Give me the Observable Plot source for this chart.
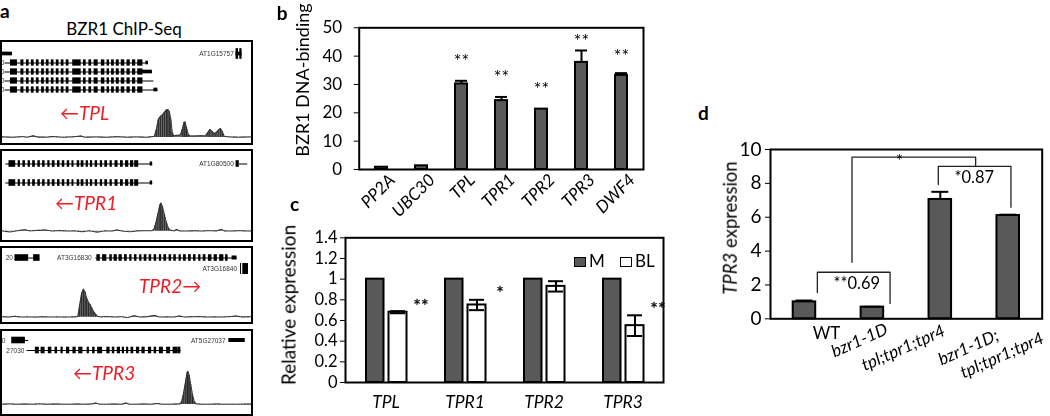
<!DOCTYPE html>
<html><head><meta charset="utf-8">
<script src="https://cdn.jsdelivr.net/npm/d3@7"></script>
<script src="https://cdn.jsdelivr.net/npm/@observablehq/plot@0.6"></script>
<style>
html,body{margin:0;padding:0;background:#fff;}
#fig{position:relative;width:1050px;height:416px;overflow:hidden;font-family:Lato,"Open Sans",sans-serif;color:#000;}
#fig svg{position:absolute;overflow:visible;background:transparent;will-change:transform;}
.t{position:absolute;white-space:pre;line-height:1;}
.track{position:absolute;left:0;width:253px;border:2px solid #000;box-sizing:border-box;overflow:hidden;background:#fff;}
.track svg{position:absolute;left:0;}
</style></head><body><div id="fig"></div>
<script>
// ================= DATA =================
// ---- panel a : BZR1 ChIP-Seq tracks (positions in % of window, signal in read-height units)
const tplExons = [[3.2,6.0],[7.4,8.6],[9.6,10.7],[11.6,12.7],[13.6,14.7],[15.7,16.8],[17.6,18.7],[19.6,20.7],[21.6,22.7],[23.6,24.7],[25.6,26.7],[28.2,31.6],[32.5,33.6],[34.7,35.8],[36.8,38.4],[39.7,41.1],[42.0,43.0],[43.8,44.9],[45.7,46.9],[47.7,49.1],[50.0,51.3],[52.2,53.5],[54.3,56.4]];
const tplRows = [["r1",1,58.6],["r2",1,60.2],["r3",1,60.8],["r4",1,62.4]];
const tplUtrs = [["r0",0,4],["r1",57.6,58.6],["r2",55.5,60.2],["r4",60.8,62.4],["r0",93.8,96.2]];
const tplTall = [["r0",93.8,94.8],["r0",95.3,96.2]];
const tplNames = [["r0",93.3,"AT1G15757"],["r1",1.2,"0"],["r2",1.2,"0"],["r3",1.2,"0"],["r4",1.2,"0"]];
const tplSignal = [[0,0.6],[4,0.2],[8,0.8],[10,0.2],[12.5,1.8],[14,0.4],[18,0.3],[20,0.9],[24,0.2],[28,0.6],[31.6,1.5],[33,0.3],[38,0.5],[42,0.2],[46,0.7],[50,0.3],[54,0.5],[58,0.2],[60,0.8],[61.0,1],[61.8,8],[62.6,18],[63.4,21],[64.2,22.5],[65.0,25],[65.8,27.5],[66.4,28],[67.0,26],[67.6,18],[68.2,5],[68.8,1.5],[69.5,2],[71.5,2.5],[72.2,8],[72.9,15],[73.3,15.5],[73.9,10],[74.6,3],[75.3,1.5],[77,1.5],[80,1.8],[81.5,1.5],[82.5,5],[83.3,8],[84.2,6],[85.0,4],[85.7,4.5],[86.6,7],[87.5,9],[88.3,6],[89.0,1.2],[91,0.5],[95,0.3],[100,0.5]];

const tpr1Exons = [[2.6,5.3],[6.3,7.2],[8.2,9.2],[10.3,11.2],[12.1,13.2],[14.2,15.2],[16.1,17.1],[18.2,19.1],[20.0,21.1],[22.1,23.1],[24.0,25.0],[26.0,27.0],[27.9,28.7],[30.0,31.0],[31.6,32.7],[33.6,34.5],[35.3,36.2],[37.2,38.2],[39.3,40.2],[41.1,42.2],[43.2,44.1],[45.2,46.4],[47.4,48.5],[49.4,50.7],[51.4,52.7],[53.1,54.7],[93.8,95.1]];
const tpr1Rows = [["r1",1.3,60.3],["r2",1.3,60.3],["r1",95.1,98.5]];
const tpr1Utrs = [["r1",59.3,60.3],["r2",59.3,60.3]];
const tpr1Tall = [];
const tpr1Names = [["r1",93.3,"AT1G80500"]];
const tpr1Signal = [[0,0.3],[3,-0.8],[6,0.5],[9,1.5],[11,0.3],[14,0.8],[17,1.2],[20,0.2],[23,0.6],[26,0.2],[29,0.3],[32,-0.5],[35,0.4],[38,-1],[41,0.3],[44,0.2],[46,1.2],[48,0.2],[51,-0.6],[54,0.3],[57,0.5],[60,0.4],[60.8,1.5],[61.6,8],[62.4,17],[63.2,26],[63.6,28],[64.2,25],[65,17],[65.8,9],[66.6,3],[67.5,1],[69,0.3],[70,1.8],[71,0.3],[74,0.2],[77,0.4],[80,0.2],[83,0.5],[86,0.3],[88,1.8],[89,0.3],[92,0.2],[95,0.5],[98,0.2],[100,0.3]];

const tpr2Exons = [[5.0,10.5],[12.5,15.1],[37.9,39.3],[40.2,41.9],[43.1,44.1],[44.8,46.1],[46.8,48.1],[49.0,50.1],[51.1,52.0],[53.0,54.0],[55.1,56.0],[56.9,58.0],[58.9,59.9],[60.9,61.9],[63.0,63.9],[64.8,65.9],[66.9,67.9],[68.8,69.8],[70.9,71.8],[72.7,73.8],[74.7,75.8],[76.7,77.7],[78.8,79.7],[80.6,81.7],[82.7,84.1],[85.0,86.3],[87.2,88.9],[89.6,90.6]];
const tpr2Rows = [["r1",10.5,12.5],["r1",37.5,94.2]];
const tpr2Utrs = [["r1",92.2,94.2]];
const tpr2Tall = [["r2",96.5,98.8],["r2",95.6,96.0]];
const tpr2Names = [["r1",4.6,"20"],["r1",36.2,"AT3G16830"],["r2",94.6,"AT3G16840"]];
const tpr2Signal = [[0,0.4],[3,0.2],[5,1],[7,0.2],[10,0.3],[13,0.1],[16,0.4],[19,0.2],[22,0.3],[25,0.1],[28,0.3],[29.5,0.3],[30.3,1],[31.0,12],[31.8,24],[32.5,28],[33.2,25],[33.8,19],[34.5,15],[35.2,12.5],[35.9,9],[36.6,5.5],[37.4,3],[38.2,0.8],[39.5,0.3],[42,0.6],[45,0.2],[48,0.5],[50,-0.5],[53,1.5],[55,0.2],[58,0.4],[61,1.8],[63,0.2],[66,0.3],[69,0.2],[71,1.2],[73,0.2],[76,0.4],[79,0.6],[82,0.2],[85,0.3],[88,0.2],[91,0.5],[94,1.2],[96,0.3],[100,0.4]];

const tpr3Exons = [[3.7,9.2],[13.2,14.8],[15.5,17.1],[18.4,19.8],[21.1,22.1],[23.5,24.4],[25.7,27.0],[28.3,29.6],[30.6,32.3],[34.0,34.9],[36.2,37.2],[38.2,40.2],[41.9,43.2],[44.1,45.1],[46.1,47.4],[48.1,49.0],[49.8,50.7],[51.6,52.7],[53.8,55.1],[56.0,57.3],[58.6,59.9],[60.9,61.9],[63.0,64.6],[65.9,67.5],[68.5,70.5],[70.5,71.6]];
const tpr3Rows = [["r1",9.2,10.5],["r2",9.9,71.8]];
const tpr3Utrs = [["r1",90.9,97.5]];
const tpr3Tall = [];
const tpr3Names = [["r1",1.6,"0"],["r1",90.0,"AT5G27037"],["r2",9.2,"27030"]];
const tpr3Signal = [[0,0.3],[3,0.5],[6,0.2],[9,0.4],[12,0.2],[15,0.6],[18,0.2],[21,0.4],[24,0.3],[27,0.2],[30,0.4],[33,0.2],[36,0.5],[37.5,1.5],[39,0.3],[42,0.2],[45,0.4],[48,0.2],[49.5,1.5],[51,0.3],[54,0.2],[57,0.4],[60,0.2],[62,1.0],[64,0.3],[67,0.2],[70,0.4],[71.2,0.5],[72.0,3],[72.8,12],[73.6,24],[74.2,32],[74.5,33],[75.0,29],[75.6,20],[76.3,10],[77.0,3],[77.8,0.5],[80,0.3],[83,0.2],[86,0.4],[89,0.2],[92,0.3],[95,0.2],[98,0.4],[100,0.3]];

// ---- panel b : ChIP-qPCR
const bGenes = ["PP2A","UBC30","TPL","TPR1","TPR2","TPR3","DWF4"];
const bValues = [0.8, 1.3, 30.2, 24.3, 21.3, 37.8, 33.2];
const bErrors = [0, 0, 1.1, 1.3, 0, 4.2, 0.8];
const bStars = ["", "", "**", "**", "**", "**", "**"];
const bStarY = [null, null, 39.9, 34.3, 30.2, 47.0, 41.7];
const bTicks = [0, 10, 20, 30, 40, 50];

// ---- panel c : relative expression, mock vs BL
const cGenes = ["TPL","TPR1","TPR2","TPR3"];
const cMock = [1, 1, 1, 1];
const cBL = [0.68, 0.75, 0.93, 0.55];
const cBLErr = [0.01, 0.05, 0.05, 0.10];
const cStars = ["**", "*", "", "**"];
const cStarY = [0.79, 0.91, null, 0.755];
const cTicks = [0, 0.2, 0.4, 0.6, 0.8, 1, 1.2, 1.4];
const cSeries = ["M", "BL"];

// ---- panel d : TPR3 expression
const dGenotypes = ["WT", "bzr1-1D", "tpl;tpr1;tpr4", "bzr1-1D;\ntpl;tpr1;tpr4"];
const dValues = [1.0, 0.69, 7.05, 6.1];
const dErrors = [0.08, 0.02, 0.45, 0.05];
const dTicks = [0, 2, 4, 6, 8, 10];
// significance brackets: left/right x (category index units), top y, left/right foot y
const dBrackets = [[0.19, 1.26, 2.75, 1.55, 0.9], [1.97, 3.04, 9.0, 7.93, 6.59], [0.70, 2.52, 9.55, 3.34, 9.0]];
const dNotes = [[0.77, 2.05, "**0.69"], [2.50, 8.32, "*0.87"], [1.40, 9.3, "*"]];

// ================= LAYOUT / DRAWING =================
const FONT = 'Lato, "Open Sans", sans-serif';
const BAR = "#595959";
const fig = document.getElementById("fig");

function addText(str, x, y, o = {}) {
  const size = o.size || 16;
  const d = document.createElement("div");
  d.className = "t";
  if (o.html) d.innerHTML = str; else d.textContent = str;
  d.style.fontSize = size + "px";
  d.style.fontWeight = o.weight || "normal";
  d.style.fontStyle = o.style || "normal";
  d.style.color = o.color || "#000";
  d.style.left = x + "px";
  d.style.top = (y - 0.887 * size) + "px";
  if (o.anchor === "middle") d.style.transform = "translateX(-50%)";
  (o.parent || fig).appendChild(d);
  return d;
}
function addYTitle(str, cx, cy, size, html) {
  const d = document.createElement("div");
  d.className = "t";
  if (html) d.innerHTML = str; else d.textContent = str;
  d.style.fontSize = size + "px";
  d.style.left = cx + "px"; d.style.top = cy + "px";
  d.style.transform = "translate(-50%,-50%) rotate(-90deg)";
  fig.appendChild(d);
}
function put(svg, left, top, parent) {
  svg.style.left = left + "px"; svg.style.top = top + "px";
  (parent || fig).appendChild(svg);
}
const rowObj = a => ({lane: a[0], start: a[1], end: a[2]});

// ---- panel a
const trackLayouts = [
  {top: 40, height: 105, lanes: ["r0","r1","r2","r3","r4"], geneH: 55, laneRange: [6.3, 52.9], covTop: 56, covH: 45, covBottom: 6,
   exons: tplExons, exonLanes: ["r1","r2","r3","r4"], rows: tplRows, utrs: tplUtrs, tall: tplTall, names: tplNames, signal: tplSignal},
  {top: 149, height: 93, lanes: ["r1","r2"], geneH: 44, laneRange: [2.8, 40.8], covTop: 44, covH: 45, covBottom: 9.3,
   exons: tpr1Exons, exonLanes: ["r1","r2"], rows: tpr1Rows, utrs: tpr1Utrs, tall: tpr1Tall, names: tpr1Names, signal: tpr1Signal},
  {top: 246, height: 78, lanes: ["r1","r2"], geneH: 28, laneRange: [3.8, 25.8], covTop: 34, covH: 40, covBottom: 5.3,
   exons: tpr2Exons, exonLanes: ["r1"], rows: tpr2Rows, utrs: tpr2Utrs, tall: tpr2Tall, names: tpr2Names, signal: tpr2Signal},
  {top: 329, height: 87, lanes: ["r1","r2"], geneH: 28, laneRange: [4, 24], covTop: 31, covH: 52, covBottom: 10,
   exons: tpr3Exons, exonLanes: ["r2"], rows: tpr3Rows, utrs: tpr3Utrs, tall: tpr3Tall, names: tpr3Names, signal: tpr3Signal}
];
// exons that sit only on one lane (neighbouring genes)
const exonLaneOverride = {1: {"93.8": ["r1"]}, 3: {"3.7": ["r1"]}, 2: {"5": ["r1"]}};

trackLayouts.forEach((L, k) => {
  const box = document.createElement("div");
  box.className = "track";
  box.style.top = L.top + "px"; box.style.height = L.height + "px";
  fig.appendChild(box);
  const W = 249;
  const step = (L.laneRange[1] - L.laneRange[0]) / L.lanes.length;
  const exonH = 6.6, utrH = 4, tallH = 11;
  const exonRects = [];
  L.exons.forEach(e => {
    const ov = exonLaneOverride[k] && exonLaneOverride[k][String(e[0])];
    (ov || L.exonLanes).forEach(lane => exonRects.push({lane, start: e[0], end: e[1]}));
  });
  const gene = Plot.plot({
    width: W, height: L.geneH,
    marginLeft: 0, marginRight: 0, marginTop: L.laneRange[0], marginBottom: L.geneH - L.laneRange[1],
    x: {domain: [0, 100], axis: null},
    y: {domain: L.lanes, padding: 0, axis: null},
    style: {fontFamily: FONT, background: "transparent", overflow: "visible"},
    marks: [
      Plot.ruleY(L.rows.map(rowObj), {x1: "start", x2: "end", y: "lane", stroke: "#000", strokeWidth: 1}),
      Plot.barX(exonRects, {x1: "start", x2: "end", y: "lane", fill: "#000", insetTop: (step - exonH) / 2, insetBottom: (step - exonH) / 2}),
      Plot.barX(L.utrs.map(rowObj), {x1: "start", x2: "end", y: "lane", fill: "#000", insetTop: (step - utrH) / 2, insetBottom: (step - utrH) / 2}),
      Plot.barX(L.tall.map(rowObj), {x1: "start", x2: "end", y: "lane", fill: "#000", insetTop: (step - tallH) / 2, insetBottom: (step - tallH) / 2}),
      Plot.text(L.names.map(n => ({lane: n[0], pos: n[1], name: n[2]})), {x: "pos", y: "lane", text: "name", textAnchor: "end", dx: -1, fontSize: 6.5, fill: "#333", fontFamily: "Liberation Sans, Arial, sans-serif"})
    ]
  });
  put(gene, 0, 0, box);
  const sig = L.signal.map(s => ({x: s[0], v: s[1]}));
  const cov = Plot.plot({
    width: W, height: L.covH,
    marginLeft: 0, marginRight: 0, marginTop: 0, marginBottom: L.covBottom,
    x: {domain: [0, 100], axis: null},
    y: {domain: [0, L.covH - L.covBottom], axis: null},
    style: {background: "transparent", overflow: "visible"},
    marks: [
      Plot.areaY(sig, {x: "x", y: "v", fill: "#707070"}),
      Plot.ruleX(sig.filter(d => d.v > 2.5), {x: "x", y1: 0, y2: "v", stroke: "#111", strokeWidth: 0.8}),
      Plot.line(sig, {x: "x", y: "v", stroke: "#333", strokeWidth: 1.1, strokeDasharray: "2,1"})
    ]
  });
  put(cov, 0, L.covTop, box);
});

addText("a", 0, 18.3, {size: 19, weight: "bold"});
addText("BZR1 ChIP-Seq", 124, 35, {size: 17, anchor: "middle"});
const RED = "#ee1c25";
addText("\u2190TPL", 60, 120, {size: 19, style: "italic", color: RED});
addText("\u2190TPR1", 55, 210, {size: 19, style: "italic", color: RED});
addText("TPR2\u2192", 139, 293, {size: 19, style: "italic", color: RED});
addText("\u2190TPR3", 73, 380, {size: 19, style: "italic", color: RED});

// ---- panel b
const bData = bGenes.map((g, i) => ({g, v: bValues[i], e: bErrors[i], s: bStars[i], sy: bStarY[i]}));
const bPlot = Plot.plot({
  width: 400, height: 225, marginLeft: 98.7, marginRight: 17, marginTop: 27.3, marginBottom: 56,
  style: {fontFamily: FONT, fontSize: "16px", color: "#000", background: "transparent", overflow: "visible"},
  x: {domain: bGenes, padding: 0, axis: null},
  y: {domain: [0, 50]},
  marks: [
    Plot.barY(bData, {x: "g", y: "v", fill: BAR, stroke: "#000", strokeWidth: 2, insetLeft: 14, insetRight: 14}),
    Plot.ruleX(bData.filter(d => d.e > 0), {x: "g", y1: "v", y2: d => d.v + d.e, stroke: "#000", strokeWidth: 2}),
    Plot.tickY(bData.filter(d => d.e > 0), {x: "g", y: d => d.v + d.e, stroke: "#000", strokeWidth: 2, insetLeft: 14, insetRight: 14}),
    Plot.text(bData.filter(d => d.s), {x: "g", y: "sy", text: "s", fill: "#000", fontSize: 18, dy: 5}),
    Plot.frame({stroke: "#000", strokeWidth: 2}),
    Plot.axisY({ticks: bTicks, tickSize: 5, tickPadding: 12, label: null, fontSize: 17, fill: "#000"}),
    Plot.text(bGenes, {x: d => d, text: d => d, frameAnchor: "bottom", rotate: -45, textAnchor: "end", lineAnchor: "top",
      dx: 6, dy: 3, fontSize: 17, fontStyle: "italic", fill: "#000"})
  ]
});
put(bPlot, 260, 0);
addText("b", 276.7, 20, {size: 19, weight: "bold"});
addYTitle("BZR1 DNA-binding", 302, 80, 18);

// ---- panel c
const cData = cGenes.map((g, i) => ({g, m: cMock[i], bl: cBL[i], e: cBLErr[i], s: cStars[i], sy: cStarY[i]}));
const cPlot = Plot.plot({
  width: 410, height: 191, marginLeft: 85, marginRight: 7, marginTop: 12.3, marginBottom: 34,
  style: {fontFamily: FONT, fontSize: "16px", color: "#000", background: "transparent", overflow: "visible"},
  x: {domain: cGenes, padding: 0, axis: null},
  y: {domain: [0, 1.4]},
  marks: [
    Plot.barY(cData, {x: "g", y: "m", fill: BAR, stroke: "#000", strokeWidth: 2, insetLeft: 20, insetRight: 41.5}),
    Plot.barY(cData, {x: "g", y: "bl", fill: "#fff", stroke: "#000", strokeWidth: 2, insetLeft: 42.5, insetRight: 18.5}),
    Plot.ruleX(cData, {x: "g", y1: d => d.bl - d.e, y2: d => d.bl + d.e, dx: 12, stroke: "#000", strokeWidth: 2}),
    Plot.tickY(cData, {x: "g", y: d => d.bl + d.e, insetLeft: 44, insetRight: 20, stroke: "#000", strokeWidth: 2}),
    Plot.tickY(cData, {x: "g", y: d => d.bl - d.e, insetLeft: 44, insetRight: 20, stroke: "#000", strokeWidth: 2}),
    Plot.text(cData.filter(d => d.s), {x: "g", y: "sy", text: "s", fill: "#000", stroke: "#000", strokeWidth: 0.3, dx: 35, dy: 5, fontSize: 18}),
    Plot.frame({stroke: "#000", strokeWidth: 2}),
    Plot.axisY({ticks: cTicks, tickFormat: d => String(d), tickSize: 5, tickPadding: 3, label: null, fontSize: 16.5, fill: "#000"}),
    Plot.text(cGenes, {x: d => d, text: d => d, frameAnchor: "bottom", dy: 19.5, lineAnchor: "middle",
      fontSize: 17.5, fontStyle: "italic", fill: "#000"})
  ]
});
put(cPlot, 260, 225);
addText("c", 290, 211, {size: 19, weight: "bold"});
addYTitle("Relative expression", 288, 305, 19);
// legend (inside panel c)
function legendSwatch(x, y, fill) {
  const s = document.createElement("div");
  s.style.cssText = `position:absolute;left:${x}px;top:${y}px;width:12px;height:10px;border:1.5px solid #000;box-sizing:border-box;background:${fill}`;
  fig.appendChild(s);
}
legendSwatch(574, 257, BAR);
addText(cSeries[0], 589, 267, {size: 17});
legendSwatch(620, 257, "#fff");
addText(cSeries[1], 635, 267, {size: 17});

// ---- panel d
const dData = dGenotypes.map((g, i) => ({g, i, v: dValues[i], e: dErrors[i]}));
const bracketPts = dBrackets.flatMap((b, k) => [
  {k, x: b[0], y: b[3]}, {k, x: b[0], y: b[2]}, {k, x: b[1], y: b[2]}, {k, x: b[1], y: b[4]}
]);
const labelMarks = [];
const labelOffsets = [[22, 15, 0], [-12.8, 21.7, -24], [-37, 29.2, -24], [-39.7, 28.7, -24], [-6.2, 36.7, -24]];
let li = 0;
dGenotypes.forEach((g, i) => {
  g.split("\n").forEach(line => {
    const [dx, dy, rot] = labelOffsets[li++];
    labelMarks.push(Plot.text([{i, t: line}], {x: "i", text: "t", frameAnchor: "bottom", dx, dy, rotate: rot,
      textAnchor: "middle", lineAnchor: "middle", fontSize: 17, fill: "#000", fontStyle: i === 0 ? "normal" : "italic"}));
  });
});
const dPlot = Plot.plot({
  width: 370, height: 286, marginLeft: 90, marginRight: 8.3, marginTop: 19, marginBottom: 97.7,
  style: {fontFamily: FONT, fontSize: "16px", color: "#000", background: "transparent", overflow: "visible"},
  x: {domain: [-0.5, 3.5], axis: null},
  y: {domain: [0, 10], axis: null},
  marks: [
    Plot.rectY(dData, {x1: d => d.i - 0.5, x2: d => d.i + 0.5, y: "v", fill: BAR, stroke: "#000", strokeWidth: 2, insetLeft: 22.7, insetRight: 22.7}),
    Plot.ruleX(dData, {x: "i", y1: "v", y2: d => d.v + d.e, stroke: "#000", strokeWidth: 2}),
    Plot.ruleY(dData, {x1: d => d.i - 0.5, x2: d => d.i + 0.5, y: d => d.v + d.e, insetLeft: 25.5, insetRight: 25.5, stroke: "#000", strokeWidth: 2}),
    Plot.line(bracketPts, {x: "x", y: "y", z: "k", stroke: "#222", strokeWidth: 1.3}),
    Plot.text(dNotes.map(n => ({x: n[0], y: n[1], t: n[2]})), {x: "x", y: "y", text: "t", fill: "#000", fontSize: 16.5}),
    Plot.frame({stroke: "#000", strokeWidth: 2}),
    Plot.axisY({ticks: dTicks, tickSize: 5, tickPadding: 4, label: null, fontSize: 19, fill: "#000"}),
    ...labelMarks
  ]
});
put(dPlot, 680, 130);
addText("d", 698, 120, {size: 19, weight: "bold"});
addYTitle("<i>TPR3</i> expression", 730, 228, 18.5, true);
</script></body></html>
